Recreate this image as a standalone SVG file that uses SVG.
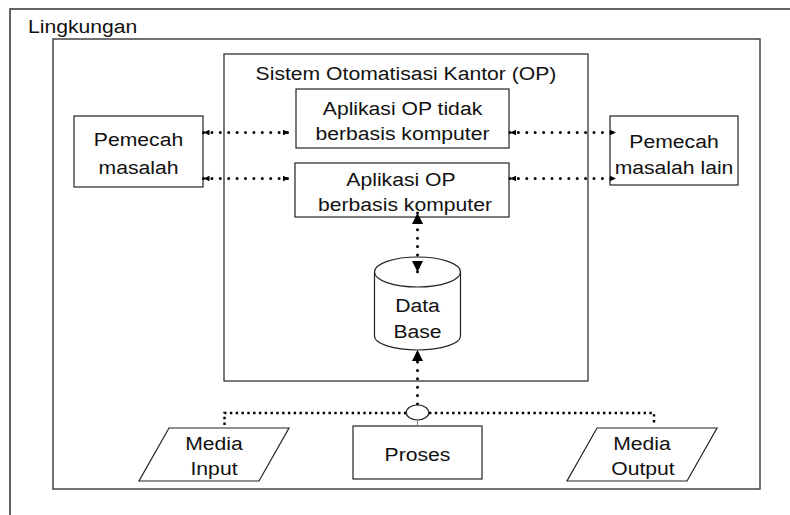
<svg xmlns="http://www.w3.org/2000/svg" width="790" height="515" viewBox="0 0 790 515">
<style>
  .box{fill:#fff;stroke:#222;stroke-width:1.2}
  .frame{fill:none;stroke:#333;stroke-width:1.5}
  .t{font-family:"Liberation Sans",Arial,sans-serif;font-size:18.4px;fill:#111;text-anchor:middle}
  .dot{fill:none;stroke:#000;stroke-width:3;stroke-linecap:round;stroke-dasharray:0 8.4}
  .sq{fill:none;stroke:#000;stroke-width:2.4;stroke-dasharray:2.4 3.4}
</style>
<defs>
  <marker id="sa" markerUnits="userSpaceOnUse" markerWidth="8" markerHeight="7" refX="6" refY="2.75" orient="auto-start-reverse">
    <path d="M0,0 L6,2.75 L0,5.5 z" fill="#000"/>
  </marker>
  <marker id="la" markerUnits="userSpaceOnUse" markerWidth="12" markerHeight="12" refX="11" refY="5.5" orient="auto-start-reverse">
    <path d="M0,0 L11,5.5 L0,11 z" fill="#000"/>
  </marker>
</defs>
<rect width="790" height="515" fill="#fff"/>
<g id="lingkungan">
  <rect class="frame" x="10" y="9" width="800" height="520"/>
  <text class="t" style="text-anchor:start" transform="translate(28,33) scale(1.15,1)">Lingkungan</text>
</g>
<g id="lingkungan-dalam">
  <rect x="53" y="39" width="707" height="450" fill="none" stroke="#444" stroke-width="1.5"/>
</g>
<g id="sistem-op">
  <rect class="box" x="224" y="54" width="364" height="327"/>
  <text class="t" transform="translate(406,80) scale(1.15,1)">Sistem Otomatisasi Kantor (OP)</text>
</g>
<g id="aplikasi-tidak">
  <rect class="box" x="296" y="89" width="213" height="59"/>
  <text class="t" transform="translate(402.5,115) scale(1.15,1)">Aplikasi OP tidak</text>
  <text class="t" transform="translate(402.5,140) scale(1.15,1)">berbasis komputer</text>
</g>
<g id="aplikasi-komputer">
  <rect class="box" x="295" y="163" width="214" height="54"/>
  <text class="t" transform="translate(401,186) scale(1.15,1)">Aplikasi OP</text>
  <text class="t" transform="translate(405,211) scale(1.15,1)">berbasis komputer</text>
</g>
<g id="pemecah-masalah">
  <rect class="box" x="74" y="116" width="129" height="71"/>
  <text class="t" transform="translate(138.5,146) scale(1.15,1)">Pemecah</text>
  <text class="t" transform="translate(138.5,174) scale(1.15,1)">masalah</text>
</g>
<g id="pemecah-masalah-lain">
  <rect class="box" x="610" y="116" width="128" height="69"/>
  <text class="t" transform="translate(674,148) scale(1.15,1)">Pemecah</text>
  <text class="t" transform="translate(674,174) scale(1.15,1)">masalah lain</text>
</g>
<g id="data-base">
  <path class="box" d="M374.5,272 L374.5,336 A43,14 0 0 0 460.5,336 L460.5,272 A43,15 0 0 0 374.5,272 Z"/>
  <path d="M374.5,272 A43,15 0 0 0 460.5,272" fill="none" stroke="#222" stroke-width="1.2"/>
  <text class="t" transform="translate(417.5,312) scale(1.15,1)">Data</text>
  <text class="t" transform="translate(417.5,338) scale(1.15,1)">Base</text>
</g>
<g id="media-input">
  <path class="box" d="M169,428 L289,428 L259,481 L139,481 Z"/>
  <text class="t" transform="translate(214,450) scale(1.15,1)">Media</text>
  <text class="t" transform="translate(214,475) scale(1.15,1)">Input</text>
</g>
<g id="proses">
  <rect class="box" x="353" y="426" width="129" height="53"/>
  <text class="t" transform="translate(417.5,461) scale(1.15,1)">Proses</text>
</g>
<g id="media-output">
  <path class="box" d="M597,428 L717,428 L687,481 L567,481 Z"/>
  <text class="t" transform="translate(642,450) scale(1.15,1)">Media</text>
  <text class="t" transform="translate(643,475) scale(1.15,1)">Output</text>
</g>
<g id="connectors">
  <line class="dot" x1="203.5" y1="132.5" x2="289" y2="132.5" marker-start="url(#sa)" marker-end="url(#sa)"/>
  <line class="dot" x1="510" y1="132.5" x2="616" y2="132.5" marker-start="url(#sa)" marker-end="url(#sa)"/>
  <line class="dot" x1="203.5" y1="178.5" x2="289" y2="178.5" marker-start="url(#sa)" marker-end="url(#sa)"/>
  <line class="dot" x1="510" y1="178.5" x2="616" y2="178.5" marker-start="url(#sa)" marker-end="url(#sa)"/>
  <line class="dot" x1="417.5" y1="213" x2="417.5" y2="272" marker-start="url(#la)" marker-end="url(#la)"/>
  <line class="dot" x1="417.5" y1="404" x2="417.5" y2="350" marker-end="url(#la)"/>
  <ellipse cx="417.5" cy="412.5" rx="11.3" ry="7.5" fill="#fff" stroke="#222" stroke-width="1.2"/>
  <line x1="417.5" y1="420" x2="417.5" y2="426" stroke="#777" stroke-width="1"/>
  <path class="sq" d="M224.5,425 L224.5,413 L406,413"/>
  <path class="sq" d="M429,413 L654,413 L654,425"/>
</g>
</svg>
